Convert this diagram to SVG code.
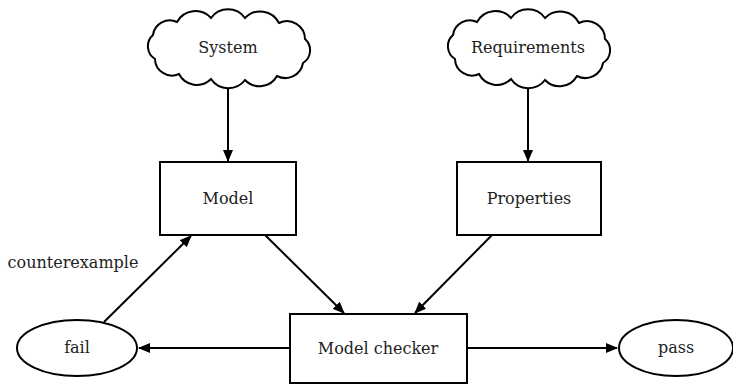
<svg xmlns="http://www.w3.org/2000/svg" width="733" height="384" viewBox="0 0 733 384">
  <style>
    .shape { fill: #ffffff; stroke: #000000; stroke-width: 2; }
    .edge { fill: none; stroke: #000000; stroke-width: 2; }
    text { font-family: "DejaVu Serif", serif; font-size: 16px; fill: #222222; text-anchor: middle; }
  </style>
  <defs>
    <marker id="arrow" viewBox="0 0 12 10" refX="11" refY="5" markerWidth="12" markerHeight="10" markerUnits="userSpaceOnUse" orient="auto">
      <path d="M0,0 L12,5 L0,10 Z" fill="#000000"/>
    </marker>
    <path id="cloud" d="M76,-10 A15,15 0 0 1 74,14 A18,18 0 0 1 48,27 A20,20 0 0 1 16,31 A21,21 0 0 1 -18,30 A20,20 0 0 1 -50,25 A17,17 0 0 1 -74,10 A15,15 0 0 1 -76,-14 A17,17 0 0 1 -52,-27 A21,21 0 0 1 -18,-31 A21,21 0 0 1 16,-31 A21,21 0 0 1 50,-26 A18,18 0 0 1 76,-10 Z"/>
  </defs>
  <rect width="733" height="384" fill="#ffffff"/>

  <g id="connectors">
    <line class="edge" x1="228" y1="86" x2="228" y2="161" marker-end="url(#arrow)"/>
    <line class="edge" x1="528" y1="86" x2="528" y2="161" marker-end="url(#arrow)"/>
    <line class="edge" x1="265" y1="235" x2="344" y2="313" marker-end="url(#arrow)"/>
    <line class="edge" x1="492" y1="235" x2="415" y2="313" marker-end="url(#arrow)"/>
    <line class="edge" x1="104" y1="322" x2="191" y2="236" marker-end="url(#arrow)"/>
    <line class="edge" x1="289" y1="348" x2="139" y2="348" marker-end="url(#arrow)"/>
    <line class="edge" x1="467" y1="348" x2="617" y2="348" marker-end="url(#arrow)"/>
    <text x="73" y="268">counterexample</text>
  </g>

  <g id="system">
    <use href="#cloud" class="shape" transform="translate(229,49)"/>
    <text x="228" y="53">System</text>
  </g>
  <g id="requirements">
    <use href="#cloud" class="shape" transform="translate(529,49)"/>
    <text x="528" y="53">Requirements</text>
  </g>
  <g id="model">
    <rect class="shape" x="160" y="162" width="136" height="73"/>
    <text x="228" y="204">Model</text>
  </g>
  <g id="properties">
    <rect class="shape" x="457" y="162" width="144" height="73"/>
    <text x="529" y="204">Properties</text>
  </g>
  <g id="model-checker">
    <rect class="shape" x="290" y="314" width="177" height="69"/>
    <text x="378" y="354">Model checker</text>
  </g>
  <g id="fail">
    <ellipse class="shape" cx="77" cy="348" rx="60" ry="28"/>
    <text x="77" y="353">fail</text>
  </g>
  <g id="pass">
    <ellipse class="shape" cx="676" cy="348" rx="57" ry="28"/>
    <text x="676" y="353">pass</text>
  </g>
</svg>
